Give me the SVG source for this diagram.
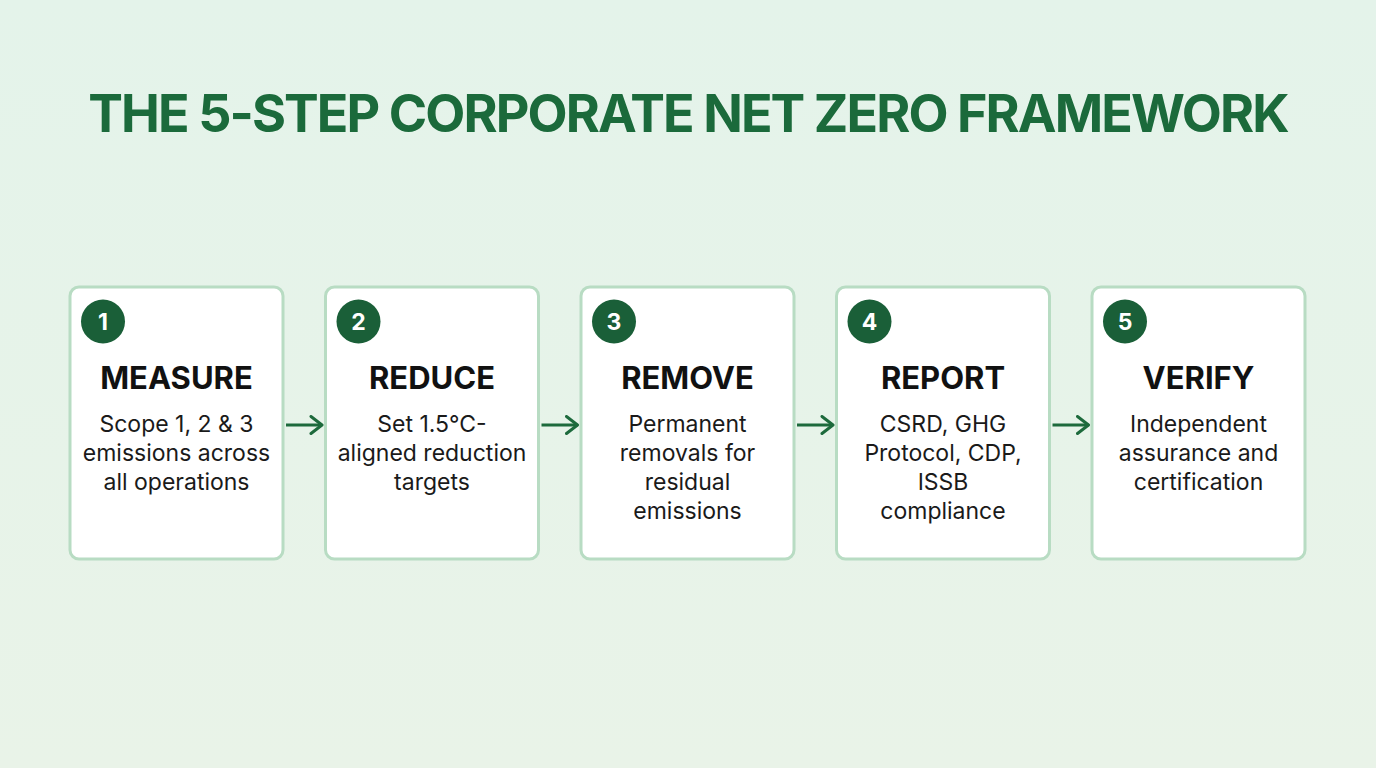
<svg xmlns="http://www.w3.org/2000/svg" width="1376" height="768" viewBox="0 0 1376 768">
<defs>
<linearGradient id="bg" x1="0" y1="0" x2="0" y2="1">
<stop offset="0" stop-color="#e4f3ea"/>
<stop offset="1" stop-color="#e9f3e8"/>
</linearGradient>
<marker id="arr" viewBox="0 0 16 20" refX="13" refY="10" markerWidth="16" markerHeight="20" markerUnits="userSpaceOnUse" orient="auto">
<path d="M2 1.5 L13 10 L2 18.5" fill="none" stroke="#1d6a3c" stroke-width="3" stroke-linecap="round" stroke-linejoin="round"/>
</marker>
<style>
.title{font-family:Inter,"Liberation Sans",sans-serif;font-weight:700;font-size:52px;letter-spacing:-1.9px;fill:#1b6a3b;text-anchor:middle}
.box{fill:#ffffff;stroke:#b8dcc3;stroke-width:3}
.badge{fill:#1a5f38}
.num{font-family:Inter,"Liberation Sans",sans-serif;font-weight:700;font-size:23px;fill:#ffffff;text-anchor:middle}
.head{font-family:Inter,"Liberation Sans",sans-serif;font-weight:700;font-size:31px;fill:#111111;text-anchor:middle}
.body{font-family:Inter,"Liberation Sans",sans-serif;font-weight:400;font-size:23px;fill:#1a1a1a;text-anchor:middle}
.conn{stroke:#1d6a3c;stroke-width:3;fill:none;marker-end:url(#arr)}
</style>
</defs>
<rect x="0" y="0" width="1376" height="768" fill="url(#bg)"/>
<text class="title" x="688" y="132">THE 5-STEP CORPORATE NET ZERO FRAMEWORK</text>

<g id="connectors">
<line class="conn" x1="286" y1="425" x2="322" y2="425"/>
<line class="conn" x1="541.5" y1="425" x2="577.5" y2="425"/>
<line class="conn" x1="797" y1="425" x2="833" y2="425"/>
<line class="conn" x1="1052.5" y1="425" x2="1088.5" y2="425"/>
</g>

<g id="step1">
<rect class="box" x="70" y="287" width="213" height="272" rx="9"/>
<circle class="badge" cx="103" cy="321.5" r="22"/>
<text class="num" x="103" y="330">1</text>
<text class="head" x="176.5" y="389">MEASURE</text>
<text class="body" x="176.5" y="432">Scope 1, 2 &amp; 3</text>
<text class="body" x="176.5" y="461">emissions across</text>
<text class="body" x="176.5" y="490">all operations</text>
</g>

<g id="step2">
<rect class="box" x="325.5" y="287" width="213" height="272" rx="9"/>
<circle class="badge" cx="358.5" cy="321.5" r="22"/>
<text class="num" x="358.5" y="330">2</text>
<text class="head" x="432" y="389">REDUCE</text>
<text class="body" x="432" y="432">Set 1.5°C-</text>
<text class="body" x="432" y="461">aligned reduction</text>
<text class="body" x="432" y="490">targets</text>
</g>

<g id="step3">
<rect class="box" x="581" y="287" width="213" height="272" rx="9"/>
<circle class="badge" cx="614" cy="321.5" r="22"/>
<text class="num" x="614" y="330">3</text>
<text class="head" x="687.5" y="389">REMOVE</text>
<text class="body" x="687.5" y="432">Permanent</text>
<text class="body" x="687.5" y="461">removals for</text>
<text class="body" x="687.5" y="490">residual</text>
<text class="body" x="687.5" y="519">emissions</text>
</g>

<g id="step4">
<rect class="box" x="836.5" y="287" width="213" height="272" rx="9"/>
<circle class="badge" cx="869.5" cy="321.5" r="22"/>
<text class="num" x="869.5" y="330">4</text>
<text class="head" x="943" y="389">REPORT</text>
<text class="body" x="943" y="432">CSRD, GHG</text>
<text class="body" x="943" y="461">Protocol, CDP,</text>
<text class="body" x="943" y="490">ISSB</text>
<text class="body" x="943" y="519">compliance</text>
</g>

<g id="step5">
<rect class="box" x="1092" y="287" width="213" height="272" rx="9"/>
<circle class="badge" cx="1125" cy="321.5" r="22"/>
<text class="num" x="1125" y="330">5</text>
<text class="head" x="1198.5" y="389">VERIFY</text>
<text class="body" x="1198.5" y="432">Independent</text>
<text class="body" x="1198.5" y="461">assurance and</text>
<text class="body" x="1198.5" y="490">certification</text>
</g>
</svg>
